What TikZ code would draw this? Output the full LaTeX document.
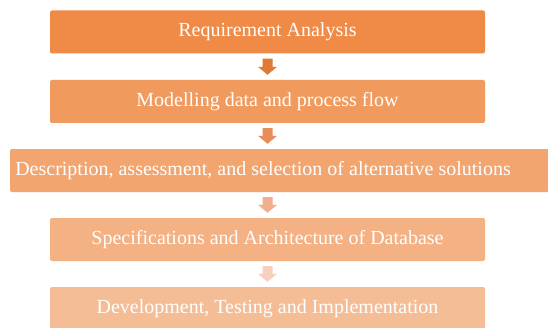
\documentclass[tikz,border=0pt]{standalone}
\usepackage{fontspec}
\setmainfont{Liberation Serif}
\usetikzlibrary{calc}
\definecolor{boxA}{HTML}{EF8A47}
\definecolor{boxB}{HTML}{F19A5E}
\definecolor{boxC}{HTML}{F2A56F}
\definecolor{boxD}{HTML}{F4B184}
\definecolor{boxE}{HTML}{F5BD96}
\definecolor{arrA}{HTML}{E07934}
\definecolor{arrB}{HTML}{E88C5A}
\definecolor{arrC}{HTML}{F0AE8C}
\definecolor{arrD}{HTML}{F7D0C0}
\tikzset{
  stagebox/.style={rounded corners=2pt, minimum height=43pt, inner sep=0pt,
    text=white, font=\fontsize{20}{22}\selectfont, anchor=center},
  stagetext/.style={inner sep=0pt, text=white, font=\fontsize{20}{22}\selectfont},
}
\newcommand\blkarrow[3]{%
  \path (n1.south |- #1.south) ++(0,-5) coordinate (s) (n1.south |- #2.north) ++(0,5) coordinate (t);
  \fill[#3] ($(s)+(-5,0)$) -- ($(s)+(5,0)$) -- ($(t)+(5,8)$) -- ($(t)+(9.5,8)$) -- (t)
    -- ($(t)+(-9.5,8)$) -- ($(t)+(-5,8)$) -- cycle;}
\begin{document}
\begin{tikzpicture}[x=1pt,y=1pt]
\useasboundingbox (0,0) rectangle (548,327);
\clip (0,0) rectangle (548,327);
\fill[white] (0,0) rectangle (548,327);
\node[stagebox, fill=boxA, minimum width=435pt] (n1) at (267.5,295) {Requirement Analysis};
\node[stagebox, fill=boxB, minimum width=435pt] (n2) at (267.5,225.5) {Modelling data and process flow};
\node[stagebox, fill=boxC, minimum width=539pt] (n3) at (279.5,156.5) {};
\node[stagetext] (n3t) at (263,156.5) {Description, assessment, and selection of alternative solutions};
\node[stagebox, fill=boxD, minimum width=435pt] (n4) at (267.5,87.5) {Specifications and Architecture of Database};
\node[stagebox, fill=boxE, minimum width=435pt] (n5) at (267.5,18.5) {Development, Testing and Implementation};
\blkarrow{n1}{n2}{arrA}
\blkarrow{n2}{n3}{arrB}
\blkarrow{n3}{n4}{arrC}
\blkarrow{n4}{n5}{arrD}
\end{tikzpicture}
\end{document}
